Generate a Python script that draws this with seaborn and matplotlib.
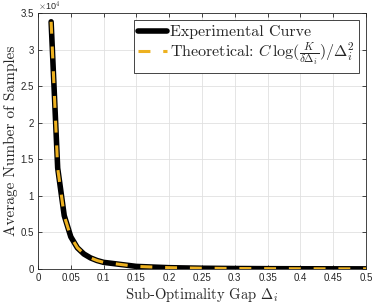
import matplotlib
matplotlib.use("Agg")
import matplotlib.pyplot as plt
import seaborn as sns
import pandas as pd
from matplotlib.ticker import FuncFormatter

# Data
gap = [0.02, 0.03, 0.04, 0.05, 0.06, 0.07, 0.08, 0.09, 0.10,
       0.15, 0.20, 0.25, 0.30, 0.35, 0.40, 0.45, 0.50]
experimental = [33800, 13800, 7300, 4400, 2900, 2050, 1520, 1160, 910,
                355, 180, 105, 67, 46, 33, 25, 19]
theoretical = [33800, 13780, 7260, 4400, 2915, 2056, 1518, 1158, 909,
               355, 180, 105, 67, 46, 33, 24.5, 18.7]
x_ticks = [0, 0.05, 0.1, 0.15, 0.2, 0.25, 0.3, 0.35, 0.4, 0.45, 0.5]
y_ticks = [0, 5000, 10000, 15000, 20000, 25000, 30000, 35000]

sns.set_theme(style="white")
plt.rcParams['font.family'] = ['Liberation Sans', 'DejaVu Sans']
plt.rcParams['mathtext.fontset'] = 'cm'

df = pd.DataFrame({"gap": gap, "exp": experimental, "theo": theoretical})

fig = plt.figure(figsize=(3.74, 3.05), dpi=100)
ax = fig.add_axes([38/374, 36/305, 328/374, 256/305])

sns.lineplot(data=df, x="gap", y="exp", ax=ax, color="black", linewidth=4.0,
             label="Experimental Curve")
sns.lineplot(data=df, x="gap", y="theo", ax=ax, color=(0.929, 0.694, 0.125),
             linewidth=2.2, label=r"Theoretical: $C\,\log(\frac{K}{\delta\Delta_i})/\Delta_i^2$")
ax.lines[1].set_linestyle((0, (3.9, 4.2)))

ax.set_xlim(0, 0.5)
ax.set_ylim(0, 35000)
ax.set_xticks(x_ticks)
ax.set_yticks(y_ticks)
ax.xaxis.set_major_formatter(FuncFormatter(lambda v, p: f"{v:g}"))
ax.yaxis.set_major_formatter(FuncFormatter(lambda v, p: f"{v/1e4:g}"))
ax.grid(True, color=(0.88, 0.88, 0.88), linewidth=0.6)
ax.set_axisbelow(True)
for s in ax.spines.values():
    s.set_color((0.15, 0.15, 0.15))
    s.set_linewidth(0.6)
ax.tick_params(direction="in", length=3, width=0.6, colors=(0.15, 0.15, 0.15),
               labelsize=7, top=True, right=True, left=True, bottom=True, pad=3)
ax.text(0.0, 1.0, r"$\times$10$^4$", transform=ax.transAxes, fontsize=6.5,
        color=(0.15, 0.15, 0.15), ha="left", va="bottom")

ax.set_xlabel(r"Sub-Optimality Gap $\Delta_i$", family="cmr10", fontsize=10.5, labelpad=1)
ax.set_ylabel("Average Number of Samples", family="cmr10", fontsize=11, labelpad=2)

leg = ax.legend(loc="upper right", frameon=True, fancybox=False,
                prop={"family": "cmr10", "size": 11.5}, handlelength=1.8,
                borderaxespad=0.45, borderpad=0.3, labelspacing=0.1, handletextpad=0.15)
leg.get_frame().set_edgecolor((0.15, 0.15, 0.15))
leg.get_frame().set_linewidth(0.6)
leg.get_frame().set_alpha(1)

fig.savefig("out.png", dpi=100)
